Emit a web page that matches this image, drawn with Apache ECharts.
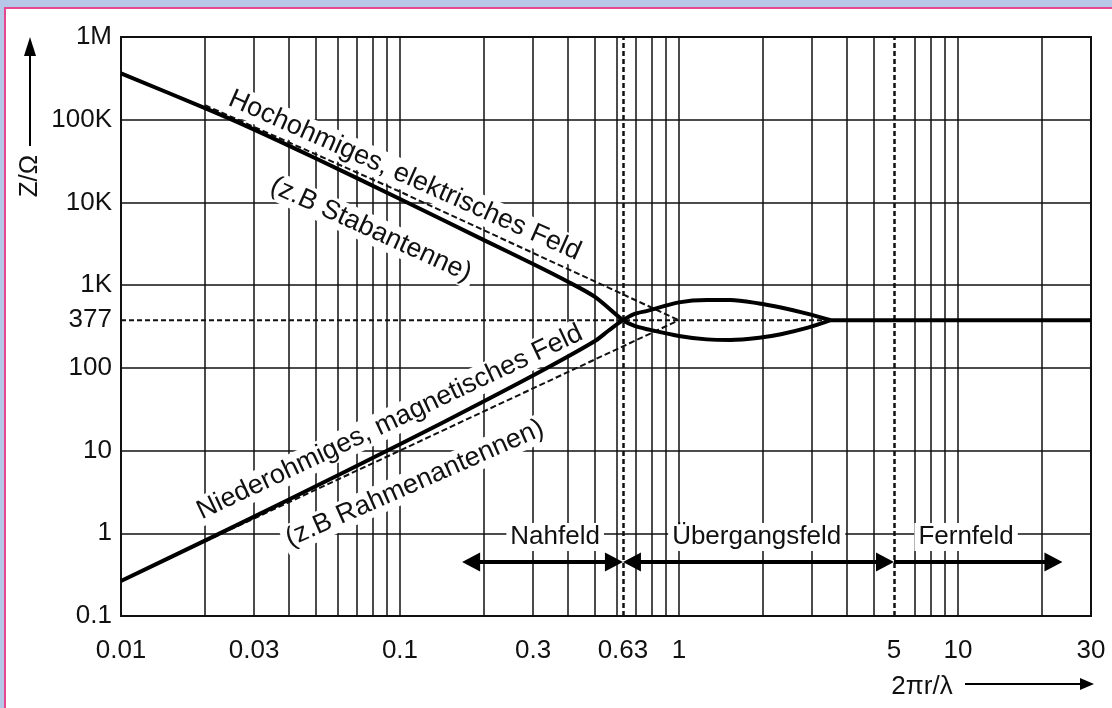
<!DOCTYPE html>
<html><head><meta charset="utf-8">
<script src="https://cdn.jsdelivr.net/npm/echarts@6/dist/echarts.min.js"></script>
<style>
html,body{margin:0;padding:0;width:1112px;height:708px;overflow:hidden;background:#b6c7e7;}
#frame{position:absolute;left:4px;top:7px;width:1108px;height:701px;background:#fff;border-left:2px solid #e6488f;border-top:2px solid #e6488f;box-sizing:border-box;}
#chart{position:absolute;left:0;top:0;width:1112px;height:708px;}
</style></head><body>
<div id="frame"></div><div id="chart"></div>
<script>
// ---- tick labels ----
const xTickValues = [0.01, 0.03, 0.1, 0.3, 0.63, 1, 5.9, 10, 30];
const xTickLabels = ['0.01', '0.03', '0.1', '0.3', '0.63', '1', '5', '10', '30'];
const yTickValues = [0.1, 1, 10, 100, 377, 1000, 10000, 100000, 1000000];
const yTickLabels = ['0.1', '1', '10', '100', '377', '1K', '10K', '100K', '1M'];
const xMinorGrid = [0.02, 0.03, 0.04, 0.05, 0.06, 0.07, 0.08, 0.09,
                    0.2, 0.3, 0.4, 0.5, 0.6, 0.7, 0.8, 0.9,
                    2, 3, 4, 5, 7, 8, 9, 20];

// ---- curves (2πr/λ, Z in Ω) ----
const eNearX = [0.01, 0.02, 0.03, 0.05, 0.1, 0.2, 0.3, 0.4, 0.5, 0.63];
const eNearZ = [363000, 138000, 76000, 34000, 11000, 3500, 1800, 1100, 720, 377];
const hNearX = [0.01, 0.02, 0.04, 0.1, 0.2, 0.33, 0.5, 0.56, 0.63];
const hNearZ = [0.265, 0.815, 2.56, 11.9, 39.4, 96, 211, 283, 377];
const eyeX = [0.69, 0.77, 1.0, 1.26, 1.53, 1.94, 2.32, 2.9, 3.5];
const eyeUpperZ = [446, 489, 619, 661, 661, 601, 537, 450, 377];
const eyeLowerZ = [323, 293, 243, 221, 217, 231, 255, 306, 377];
const farX = [3.5, 30];
const farZ = [377, 377];
const eAsymX = [0.02, 0.1, 1];
const eAsymZ = [150000, 13500, 377];
const hAsymX = [0.02, 0.1, 1];
const hAsymZ = [0.8, 10, 377];
const z0Line = [0.01, 3.5];
const z0 = 377;

// ---- zones ----
const zoneBounds = [0.63, 5.9];
const zoneNames = ['Nahfeld', 'Übergangsfeld', 'Fernfeld'];
const zoneFrom = [0.167, 0.63, 5.9];
const zoneTo = [0.63, 5.9, 23.7];
const zoneLabelX = [0.36, 1.9, 10.7];
const zoneLeftHead = [true, true, false];
const zoneArrowZ = 0.45;
const zoneLabelZ = 0.9;

// ---- diagonal annotations ----
const noteText = ['Hochohmiges, elektrisches Feld', '(z.B Stabantenne)',
                  'Niederohmiges, magnetisches Feld', '(z.B Rahmenantennen)'];
const noteX = [0.104, 0.0787, 0.092, 0.113];
const noteZ = [21200, 4700, 22, 4.0];
const noteAngle = [-24, -24.5, 25.3, 23.8];

const FONT = '"Liberation Sans", Arial, Helvetica, sans-serif';
const INK = '#111';

function zip(xs, ys) { return xs.map((x, i) => [x, ys[i]]); }
function fmt(vals, labels) {
  return function (v) {
    const i = vals.findIndex(t => Math.abs(Math.log10(t) - Math.log10(v)) < 1e-4);
    return i >= 0 ? labels[i] : '';
  };
}

const eCurve = zip(eNearX, eNearZ).concat(zip(eyeX, eyeLowerZ));
const hCurve = zip(hNearX, hNearZ).concat(zip(eyeX, eyeUpperZ));

const chart = echarts.init(document.getElementById('chart'), null, { renderer: 'canvas' });
const option = {
  animation: false,
  backgroundColor: 'transparent',
  grid: { left: 121, right: 21, top: 37, bottom: 92, show: true, borderColor: INK, borderWidth: 2, backgroundColor: 'transparent' },
  xAxis: {
    type: 'log', logBase: 10, min: 0.01, max: 30,
    axisLine: { show: true, lineStyle: { color: INK, width: 2 } },
    axisTick: { show: false },
    splitLine: { show: true, lineStyle: { color: INK, width: 1.5 } },
    axisLabel: {
      customValues: xTickValues, formatter: fmt(xTickValues, xTickLabels),
      fontFamily: FONT, fontSize: 26, color: INK, margin: 22, showMinLabel: true, showMaxLabel: true
    }
  },
  yAxis: {
    type: 'log', logBase: 10, min: 0.1, max: 1000000,
    axisLine: { show: true, lineStyle: { color: INK, width: 2 } },
    axisTick: { show: false },
    splitLine: { show: true, lineStyle: { color: INK, width: 1.5 } },
    axisLabel: {
      customValues: yTickValues, formatter: fmt(yTickValues, yTickLabels),
      fontFamily: FONT, fontSize: 26, color: INK, margin: 9, showMinLabel: true, showMaxLabel: true
    }
  },
  series: [
    { name: 'grid', type: 'line', data: [], z: 1, silent: true,
      markLine: { silent: true, symbol: 'none', z: 1, label: { show: false },
        lineStyle: { color: INK, width: 1.5, type: 'solid' },
        data: xMinorGrid.map(v => ({ xAxis: v })) } },
    { name: 'bounds', type: 'line', data: [], z: 8, silent: true,
      markLine: { silent: true, symbol: 'none', z: 8, label: { show: false },
        lineStyle: { color: INK, width: 2.5, type: [5, 3] },
        data: zoneBounds.map(v => ({ xAxis: v })) } },
    { name: 'Z0', type: 'line', z: 9, showSymbol: false, silent: true,
      lineStyle: { color: INK, width: 2, type: [5, 3] },
      data: z0Line.map(x => [x, z0]) },
    { name: 'E asym', type: 'line', z: 9, showSymbol: false, silent: true,
      lineStyle: { color: INK, width: 2, type: [6, 3] }, data: zip(eAsymX, eAsymZ) },
    { name: 'H asym', type: 'line', z: 9, showSymbol: false, silent: true,
      lineStyle: { color: INK, width: 2, type: [6, 3] }, data: zip(hAsymX, hAsymZ) },
    { name: 'E', type: 'line', z: 12, showSymbol: false, silent: true, smooth: 0.3,
      lineStyle: { color: '#000', width: 4 }, data: eCurve },
    { name: 'H', type: 'line', z: 12, showSymbol: false, silent: true, smooth: 0.3,
      lineStyle: { color: '#000', width: 4 }, data: hCurve },
    { name: 'far', type: 'line', z: 12, showSymbol: false, silent: true,
      lineStyle: { color: '#000', width: 4 }, data: zip(farX, farZ) }
  ]
};
chart.setOption(option);

function px(x, y) { return chart.convertToPixel({ gridIndex: 0 }, [x, y]); }
function textEl(str, x, y, size, rot, bg, z) {
  return {
    type: 'text', x: x, y: y, rotation: rot * Math.PI / 180, z: z || 5, silent: true,
    style: {
      text: str, x: 0, y: 0, font: size + 'px ' + FONT, fill: INK,
      align: 'center', verticalAlign: 'middle', textAlign: 'center', textVerticalAlign: 'middle',
      backgroundColor: bg ? '#fff' : 'transparent', padding: bg ? [1, 4] : 0
    }
  };
}
function tri(tipX, tipY, dir, len, half, z) {
  const bx = tipX - dir * len;
  return { type: 'polygon', z: z || 15, silent: true,
    shape: { points: [[tipX, tipY], [bx, tipY - half], [bx, tipY + half]] },
    style: { fill: '#000' } };
}
function triV(tipX, tipY, len, half, z) {
  return { type: 'polygon', z: z || 15, silent: true,
    shape: { points: [[tipX, tipY], [tipX - half, tipY + len], [tipX + half, tipY + len]] },
    style: { fill: '#000' } };
}

const g = [];
// diagonal notes
noteText.forEach((t, i) => {
  const p = px(noteX[i], noteZ[i]);
  g.push(textEl(t, p[0], p[1], 27, noteAngle[i], true, 5));
});
// zone labels and arrows
zoneNames.forEach((n, i) => {
  const p = px(zoneLabelX[i], zoneLabelZ);
  g.push(textEl(n, p[0], p[1], 26, 0, true, 5));
  const a = px(zoneFrom[i], zoneArrowZ), b = px(zoneTo[i], zoneArrowZ);
  const L = 18, H = 9.5;
  const x1 = zoneLeftHead[i] ? a[0] + L - 1 : a[0];
  g.push({ type: 'line', z: 14, silent: true, shape: { x1: x1, y1: a[1], x2: b[0] - L + 1, y2: b[1] },
    style: { stroke: '#000', lineWidth: 4 } });
  g.push(tri(b[0], b[1], 1, L, H, 15));
  if (zoneLeftHead[i]) g.push(tri(a[0], a[1], -1, L, H, 15));
});
// y axis title with arrow
g.push(textEl('Z/Ω', 30, 176, 26, 90, false, 5));
g.push({ type: 'line', z: 5, silent: true, shape: { x1: 30, y1: 146, x2: 30, y2: 54 }, style: { stroke: '#000', lineWidth: 2 } });
g.push(triV(30, 37, 19, 6, 5));
// x axis title with arrow
g.push(textEl('2πr/λ', 922, 687, 26, 0, false, 5));
g.push({ type: 'line', z: 5, silent: true, shape: { x1: 965, y1: 684, x2: 1082, y2: 684 }, style: { stroke: '#000', lineWidth: 2 } });
g.push(tri(1094, 684, 1, 14, 6, 5));

chart.setOption({ graphic: { elements: g } });
</script></body></html>
